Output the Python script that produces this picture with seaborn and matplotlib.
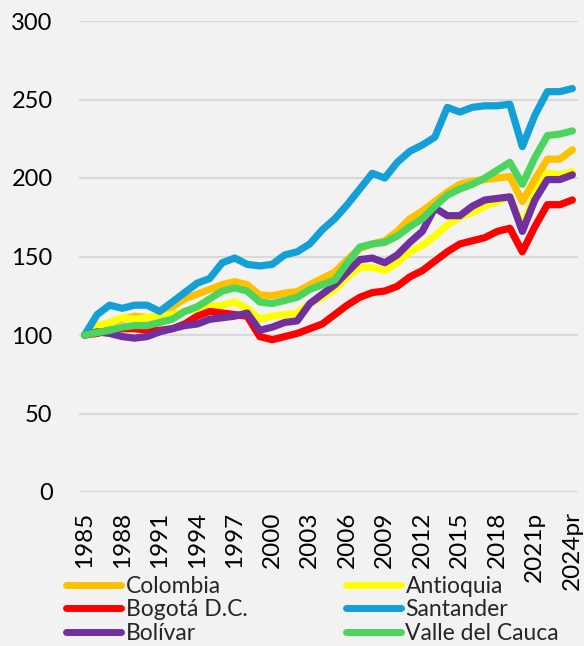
import numpy as np
import pandas as pd
import seaborn as sns
import matplotlib.pyplot as plt

# Datos del gráfico (índice 1985 = 100)
anios = [str(a) for a in range(1985, 2021)] + ['2021p', '2022p', '2023p', '2024pr']

colombia = [100, 104, 108, 110, 112, 111, 112, 118, 123, 126, 129, 132, 134, 132, 125.5, 125, 126.7, 127.6, 132, 136,
            140, 148, 155, 158, 160, 166, 174, 179, 185, 191, 196, 198, 199, 200, 201, 185, 199, 212, 212, 218]
antioquia = [100, 106, 108, 111, 110, 111, 112, 113, 115, 117, 118, 119, 121, 117, 110, 112, 113, 114, 120, 124,
             129, 137, 143, 143, 141, 146, 153, 157, 163, 170, 175, 178, 182, 185, 188, 169, 190, 203, 202, 204]
bogota = [100, 101, 103, 104, 104, 103, 103, 104, 107, 112, 115, 114, 113, 112, 99, 97, 99, 101, 104, 107,
          113, 119, 124, 127, 128, 131, 137, 141, 147, 153, 158, 160, 162, 166, 168, 153, 169, 183, 183, 186]
santander = [100, 113, 119, 117, 119, 119, 115, 121, 127, 133, 136, 146, 149, 145, 144, 145, 151, 153, 158, 167,
             174, 183, 193, 203, 200, 210, 217, 221, 226, 245, 242, 245, 246, 246, 247, 220, 240, 255, 255, 257]
bolivar = [100, 102, 101, 99, 98, 99, 102, 104, 106, 107, 110, 111, 112, 114, 103, 105, 108, 109, 120, 126,
           132, 140, 148, 149, 146, 151, 159, 166, 181, 176, 176, 182, 186, 187, 188, 166, 186, 199, 199, 202]
valle = [100, 101.5, 103, 105, 106, 106, 108, 110, 115, 118, 123, 128, 130, 128, 121, 120, 122, 124, 129, 132,
         135, 146, 156, 158, 159, 163, 169, 174, 182, 189, 193, 196, 200, 205, 210, 196, 213, 227, 228, 230]

series = ['Colombia', 'Antioquia', 'Bogotá D.C.', 'Santander', 'Bolívar', 'Valle del Cauca']
valores = [colombia, antioquia, bogota, santander, bolivar, valle]
colores = ['#FFC000', '#FFFF00', '#FF0000', '#12A0D7', '#7030A0', '#4CD55E']

# Tabla larga para seaborn
filas = []
for nombre, vals in zip(series, valores):
    for i, v in enumerate(vals):
        filas.append({'idx': i, 'anio': anios[i], 'serie': nombre, 'valor': v})
df = pd.DataFrame(filas)

sns.set_theme(style='white')
plt.rcParams['font.family'] = ['Lato', 'DejaVu Sans']

fondo = '#F2F2F2'
fig = plt.figure(figsize=(5.84, 6.46), dpi=100, facecolor=fondo)
ax = fig.add_axes([79 / 584, 154 / 646, 499 / 584, 471 / 646])
ax.set_facecolor(fondo)

sns.lineplot(data=df, x='idx', y='valor', hue='serie', hue_order=series,
             palette=dict(zip(series, colores)), linewidth=5.2, ax=ax,
             solid_capstyle='round', solid_joinstyle='round', legend=False)

ax.set_xlim(-0.45, len(anios) - 1 + 0.45)
ax.set_ylim(0, 300)
ax.set_yticks(np.arange(0, 301, 50))
pos = list(range(0, len(anios), 3))
ax.set_xticks(pos)
ax.set_xticklabels([anios[p] for p in pos], rotation=90, va='top', ha='center')
ax.tick_params(axis='x', length=0, pad=14, labelsize=17.5, colors='black')
ax.tick_params(axis='y', length=0, pad=19, labelsize=17, colors='black')
ax.yaxis.grid(True, color='#D9D9D9', linewidth=1.6)
ax.set_axisbelow(True)
ax.set_xlabel('')
ax.set_ylabel('')
for s in ax.spines.values():
    s.set_visible(False)

# Leyenda en dos columnas (orden por columnas)
orden = [0, 2, 4, 1, 3, 5]
handles = [plt.Line2D([], [], color=colores[k], linewidth=5, solid_capstyle='round') for k in orden]
labels = [series[k] for k in orden]
fig.legend(handles, labels, ncol=2, loc='upper left', bbox_to_anchor=(66 / 584, 1 - 576 / 646),
           frameon=False, fontsize=16.5, handlelength=2.4, handletextpad=0.2, columnspacing=4.3,
           labelspacing=0.1, borderpad=0, borderaxespad=0)

fig.savefig('out.png', dpi=100, facecolor=fondo)
